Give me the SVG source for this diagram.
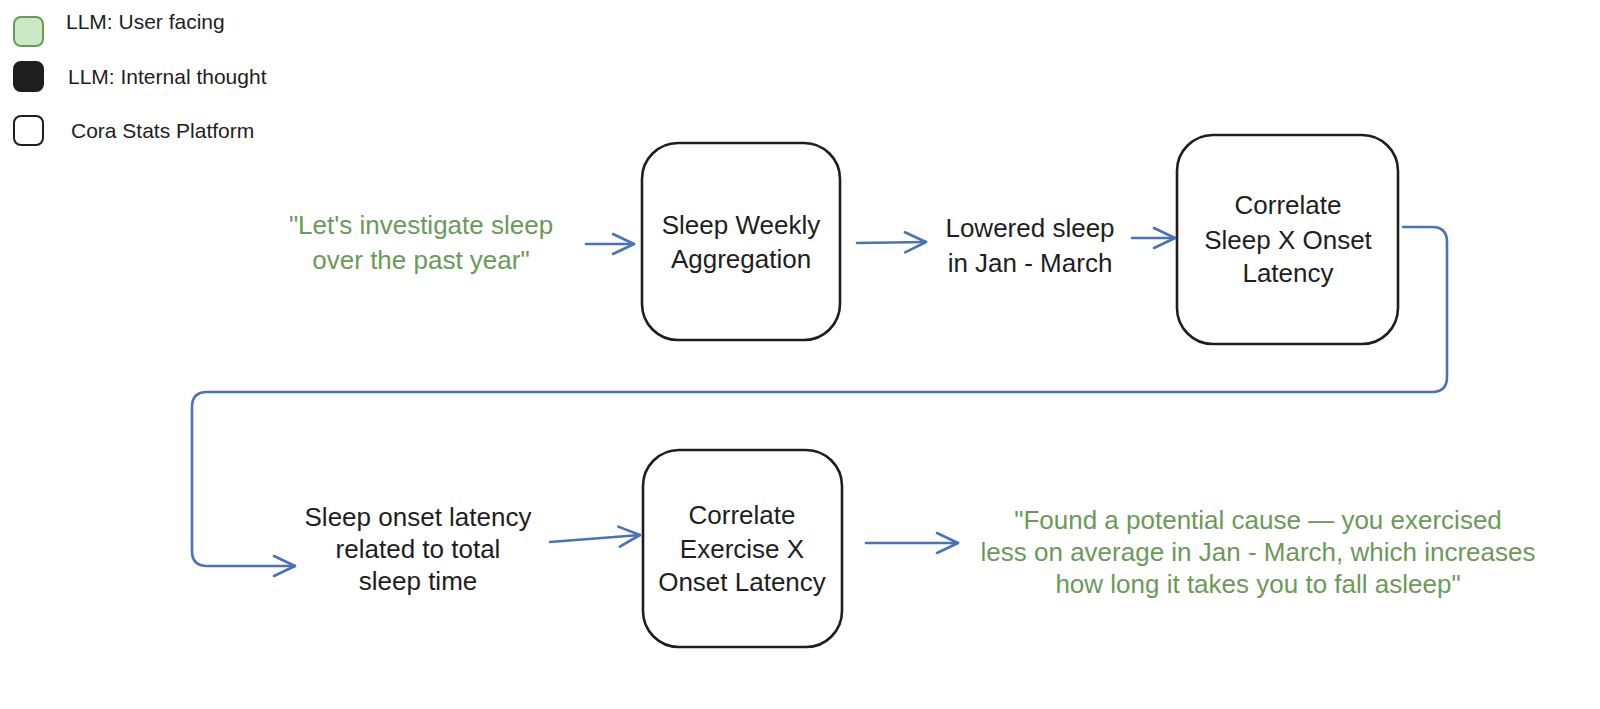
<svg xmlns="http://www.w3.org/2000/svg" width="1600" height="709" viewBox="0 0 1600 709">
<defs>
<marker id="arr" markerUnits="userSpaceOnUse" markerWidth="26" markerHeight="26" viewBox="0 0 26 26" refX="23" refY="13" orient="auto">
<path d="M2,3 L23,13 L2,23" fill="none" stroke="#4a72b8" stroke-width="2.6" stroke-linecap="round" stroke-linejoin="round"/>
</marker>
<style>
.node{fill:#ffffff;stroke:#1e1e1e;stroke-width:2.6}
.t{font-family:"Liberation Sans",Arial,sans-serif;font-size:26px;fill:#1e1e1e;text-anchor:middle}
.g{fill:#6a9a58}
.lg{font-family:"Liberation Sans",Arial,sans-serif;font-size:21px;fill:#1e1e1e}
.c{fill:none;stroke:#4a72b8;stroke-width:2.6;stroke-linecap:round;stroke-linejoin:round}
</style>
</defs>
<rect width="1600" height="709" fill="#ffffff"/>

<g id="legend">
<rect x="14" y="17" width="29" height="29" rx="7" fill="#c9e8c3" stroke="#6a9a58" stroke-width="2"/>
<text class="lg g" x="66" y="29">LLM: User facing</text>
<rect x="14" y="62" width="29" height="29" rx="7" fill="#1e1e1e" stroke="#1e1e1e" stroke-width="2"/>
<text class="lg" x="68" y="84">LLM: Internal thought</text>
<rect x="14" y="116" width="29" height="29" rx="7" fill="#ffffff" stroke="#1e1e1e" stroke-width="2"/>
<text class="lg" x="71" y="138">Cora Stats Platform</text>
</g>

<g id="user-prompt">
<text class="t g" x="421" y="234">"Let's investigate sleep</text>
<text class="t g" x="421" y="269">over the past year"</text>
</g>

<g id="sleep-weekly-aggregation">
<rect class="node" x="642" y="143" width="198" height="197" rx="36"/>
<text class="t" x="741" y="234">Sleep Weekly</text>
<text class="t" x="741" y="268">Aggregation</text>
</g>

<g id="lowered-sleep">
<text class="t" x="1030" y="237">Lowered sleep</text>
<text class="t" x="1030" y="272">in Jan - March</text>
</g>

<g id="correlate-sleep-onset">
<rect class="node" x="1177" y="135" width="221" height="209" rx="36"/>
<text class="t" x="1288" y="214">Correlate</text>
<text class="t" x="1288" y="249">Sleep X Onset</text>
<text class="t" x="1288" y="282">Latency</text>
</g>

<g id="onset-latency-related">
<text class="t" x="418" y="526">Sleep onset latency</text>
<text class="t" x="418" y="558">related to total</text>
<text class="t" x="418" y="590">sleep time</text>
</g>

<g id="correlate-exercise-onset">
<rect class="node" x="643" y="450" width="199" height="197" rx="36"/>
<text class="t" x="742" y="524">Correlate</text>
<text class="t" x="742" y="558">Exercise X</text>
<text class="t" x="742" y="591">Onset Latency</text>
</g>

<g id="final-answer">
<text class="t g" x="1258" y="529">"Found a potential cause — you exercised</text>
<text class="t g" x="1258" y="561">less on average in Jan - March, which increases</text>
<text class="t g" x="1258" y="593">how long it takes you to fall asleep"</text>
</g>

<g id="connectors">
<path class="c" d="M586,244 L634,244" marker-end="url(#arr)"/>
<path class="c" d="M857,243 L926,242" marker-end="url(#arr)"/>
<path class="c" d="M1132,238 L1175,238" marker-end="url(#arr)"/>
<path class="c" d="M1403,227 L1432,227 Q1447,227 1447,242 L1447,377 Q1447,392 1432,392 L207,392 Q192,392 192,407 L192,551 Q192,566 207,566 L295,566" marker-end="url(#arr)"/>
<path class="c" d="M550,542 L640,535" marker-end="url(#arr)"/>
<path class="c" d="M866,543 L958,543" marker-end="url(#arr)"/>
</g>
</svg>
